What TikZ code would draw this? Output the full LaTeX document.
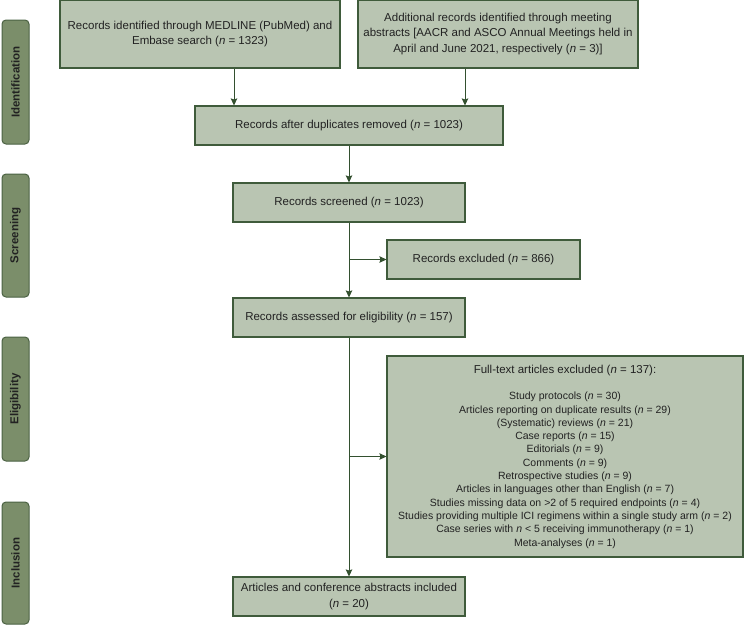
\documentclass[tikz,border=0pt]{standalone}
\usepackage{fontspec}
\setmainfont{Liberation Sans}
\usetikzlibrary{arrows.meta}

\definecolor{boxfill}{HTML}{B9C5B2}
\definecolor{boxline}{HTML}{3F5B3B}
\definecolor{tabfill}{HTML}{7B8E6A}
\definecolor{tabline}{HTML}{4B6243}
\definecolor{arrowgreen}{HTML}{33502F}
\definecolor{txtgray}{HTML}{222222}

\newcommand{\nval}[1]{\textit{n} = #1}

\begin{document}
\begin{tikzpicture}[x=1pt, y=-1pt,
    box/.style={draw=boxline, fill=boxfill, line width=1.1pt, inner sep=0pt,
        align=center, text=txtgray, font=\fontsize{11.5}{15.5}\selectfont},
    tab/.style={draw=tabline, fill=tabfill, line width=1pt, rounded corners=4pt,
        rotate=90, inner sep=0pt, text=txtgray, font=\fontsize{11.5}{14}\selectfont\bfseries},
    arr/.style={draw=arrowgreen, line width=0.9pt, -{Stealth[length=7pt, width=6.5pt, inset=1pt]}}]

    \useasboundingbox (0,0) rectangle (744,625);

    % Stage tabs
    \foreach \lbl/\ymid/\len in {Identification/82/124, Screening/235.5/123,
                                 Eligibility/399/124, Inclusion/563/122}
    {
    	\node[tab, minimum width=\len pt, minimum height=27pt] (Tab-\lbl) at (15.5,\ymid) {\lbl};
    }

    % Identification
    \node[box, minimum width=280pt, minimum height=68pt] (medline) at (200,34)
    	{Records identified through MEDLINE (PubMed) and\\Embase search (\nval{1323})};
    \node[box, minimum width=280pt, minimum height=68pt] (abstracts) at (498,34)
    	{Additional records identified through meeting\\abstracts [AACR and ASCO Annual Meetings held in\\April and June 2021, respectively (\nval{3})]};
    \node[box, minimum width=308pt, minimum height=39pt] (dup) at (349,125.5)
    	{Records after duplicates removed (\nval{1023})};

    % Screening
    \node[box, minimum width=232pt, minimum height=39pt] (screened) at (349,202.5)
    	{Records screened (\nval{1023})};
    \node[box, minimum width=193pt, minimum height=39pt] (excluded) at (483.5,259.5)
    	{Records excluded (\nval{866})};

    % Eligibility
    \node[box, minimum width=232pt, minimum height=39pt] (assessed) at (349,317.5)
    	{Records assessed for eligibility (\nval{157})};
    \node[box, minimum width=356pt, minimum height=201pt,
    	font=\fontsize{10.5}{13.3}\selectfont] (fulltext) at (565,456.5)
    	{{\fontsize{11.5}{14}\selectfont Full-text articles excluded (\nval{137}):}\\[13.3pt]
    	Study protocols (\nval{30})\\
    	Articles reporting on duplicate results (\nval{29})\\
    	(Systematic) reviews (\nval{21})\\
    	Case reports (\nval{15})\\
    	Editorials (\nval{9})\\
    	Comments (\nval{9})\\
    	Retrospective studies (\nval{9})\\
    	Articles in languages other than English (\nval{7})\\
    	Studies missing data on >2 of 5 required endpoints (\nval{4})\\
    	Studies providing multiple ICI regimens within a single study arm (\nval{2})\\
    	Case series with \textit{n} < 5 receiving immunotherapy (\nval{1})\\
    	Meta-analyses (\nval{1})};

    % Inclusion
    \node[box, minimum width=232pt, minimum height=39pt] (included) at (349,596.5)
    	{Articles and conference abstracts included\\(\nval{20})};

    % Connectors
    \draw[arr] ([xshift=-115pt]dup.north |- medline.south) -- ([xshift=-115pt]dup.north);
    \draw[arr] ([xshift=116pt]dup.north |- abstracts.south) -- ([xshift=116pt]dup.north);
    \draw[arr] (dup) -- (screened);
    \draw[arr] (screened) -- (assessed);
    \draw[arr] (screened.south |- excluded.west) -- (excluded.west);
    \draw[arr] (assessed) -- (included);
    \draw[arr] (assessed.south |- fulltext.west) -- (fulltext.west);
\end{tikzpicture}
\end{document}
